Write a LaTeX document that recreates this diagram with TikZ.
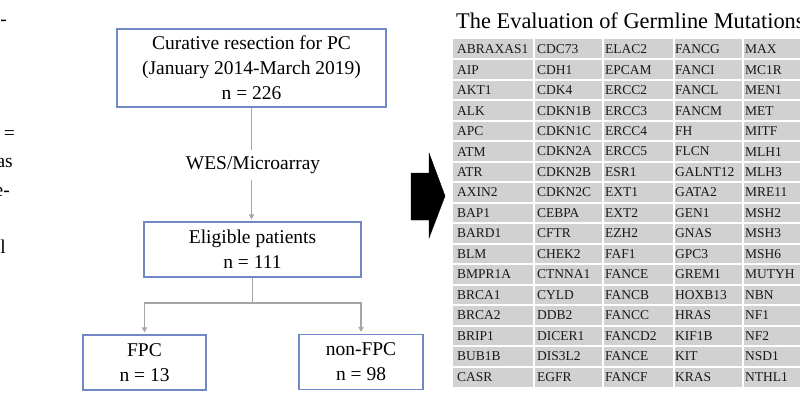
\documentclass[tikz,border=0pt]{standalone}
\usepackage{fontspec}
\setmainfont{Liberation Serif}
\usetikzlibrary{arrows.meta}
\definecolor{boxblue}{RGB}{112,136,196}
\tikzset{
	box/.style={draw=boxblue, line width=1.1pt, align=center, inner sep=0pt, font=\fontsize{19.5}{25}\selectfont},
	link/.style={draw=black!35, line width=1.3pt},
	tip/.style={-{Triangle[length=5pt,width=5pt]}, shorten >=2pt},
	gene/.style={anchor=west, inner sep=0pt, text=black!90, font=\fontsize{13.5}{14}\selectfont},
	frag/.style={anchor=east, inner sep=0pt, font=\fontsize{19.5}{25}\selectfont}
}

\begin{document}
\begin{tikzpicture}[x=1pt, y=-1pt]
		%%%%% START %%%%%
		\useasboundingbox (0, 0) rectangle (800, 400);
		
		% cut text at the left edge
		\node[frag] (f1) at (7, 23) {-};
		\node[frag] (f2) at (15, 135) {=};
		\node[frag] (f3) at (13, 163) {as};
		\node[frag] (f4) at (10, 192) {e-};
		\node[frag] (f5) at (6, 247) {l};
		
		% flow chart
		\node[box, minimum width=269pt, minimum height=78pt] (resect) at (251.5, 68) {Curative resection for PC\\(January 2014-March 2019)\\n = 226};
		\node[font=\fontsize{19.5}{25}\selectfont, inner sep=0pt, minimum height=30pt] (wes) at (253, 165) {WES/Microarray};
		\node[box, minimum width=217pt, minimum height=55pt] (elig) at (252.5, 249.5) {Eligible patients\\n = 111};
		\node[box, minimum width=123pt, minimum height=55pt] (fpc) at (144.5, 362.5) {FPC\\n = 13};
		\node[box, minimum width=124pt, minimum height=55pt] (nonfpc) at (361, 362) {non-FPC\\n = 98};
		\coordinate (split) at (252.5, 303);
		
		\draw[link] (resect.south) -- (resect.south |- wes.north);
		\draw[link, tip] (resect.south |- wes.south) -- (resect.south |- elig.north);
		\draw[link] (elig.south) -- (split);
		\draw[link, tip] (split) -| (fpc.north);
		\draw[link, tip] (split) -| (nonfpc.north);
		
		% big arrow
		\draw[fill=black] (411, 173) -- (429, 173) -- (429, 153) -- (445, 196) -- (429, 238) -- (429, 220) -- (411, 220) -- cycle;
		
		% gene table
		\node[anchor=west, inner sep=0pt, font=\fontsize{22.4}{25}\selectfont] (title) at (456, 21) {The Evaluation of Germline Mutations};
		\fill[black!18] (453, 39) rectangle (810, 387);
		\foreach \y in {1,...,16}
			\draw[white, line width=2pt] (453, 39+20.47*\y) -- (810, 39+20.47*\y);
		\foreach \x in {534, 603, 674, 743}
			\draw[white, line width=2pt] (\x, 39) -- (\x, 387);
		
		\foreach \g [count=\r from 0] in {ABRAXAS1,AIP,AKT1,ALK,APC,ATM,ATR,AXIN2,BAP1,BARD1,BLM,BMPR1A,BRCA1,BRCA2,BRIP1,BUB1B,CASR}
			\node[gene] (ga\r) at (457, 49.2+20.47*\r) {\g};
		\foreach \g [count=\r from 0] in {CDC73,CDH1,CDK4,CDKN1B,CDKN1C,CDKN2A,CDKN2B,CDKN2C,CEBPA,CFTR,CHEK2,CTNNA1,CYLD,DDB2,DICER1,DIS3L2,EGFR}
			\node[gene] (gb\r) at (537, 49.2+20.47*\r) {\g};
		\foreach \g [count=\r from 0] in {ELAC2,EPCAM,ERCC2,ERCC3,ERCC4,ERCC5,ESR1,EXT1,EXT2,EZH2,FAF1,FANCE,FANCB,FANCC,FANCD2,FANCE,FANCF}
			\node[gene] (gc\r) at (605, 49.2+20.47*\r) {\g};
		\foreach \g [count=\r from 0] in {FANCG,FANCI,FANCL,FANCM,FH,FLCN,GALNT12,GATA2,GEN1,GNAS,GPC3,GREM1,HOXB13,HRAS,KIF1B,KIT,KRAS}
			\node[gene] (gd\r) at (675, 49.2+20.47*\r) {\g};
		\foreach \g [count=\r from 0] in {MAX,MC1R,MEN1,MET,MITF,MLH1,MLH3,MRE11,MSH2,MSH3,MSH6,MUTYH,NBN,NF1,NF2,NSD1,NTHL1}
			\node[gene] (ge\r) at (745, 49.2+20.47*\r) {\g};
		
		%%%%% END %%%%%
	\end{tikzpicture}
\end{document}
